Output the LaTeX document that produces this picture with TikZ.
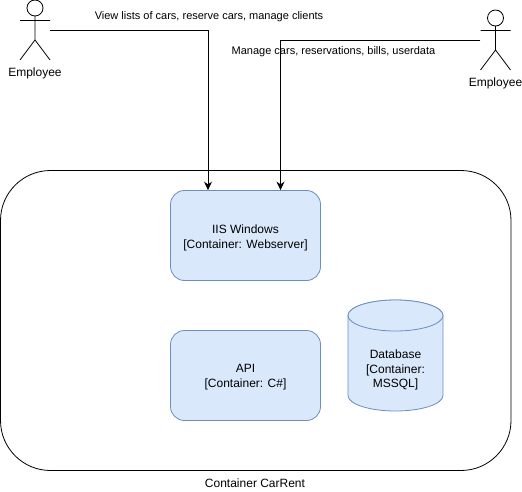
\documentclass[tikz,border=0pt]{standalone}
\usepackage{fontspec}
\setmainfont{Liberation Sans}
\definecolor{boxfill}{HTML}{DAE8FC}
\definecolor{boxline}{HTML}{6C8EBF}
\tikzset{
  box/.style={draw=boxline,fill=boxfill,rounded corners=14pt,minimum width=150pt,minimum height=90pt,inner sep=0pt,align=center,line width=0.8pt,font=\fontsize{12}{15}\selectfont},
  txt/.style={inner sep=0pt,align=center,font=\fontsize{12}{14}\selectfont},
  small/.style={inner sep=0pt,font=\fontsize{11}{13}\selectfont},
  actorbox/.style={minimum width=30pt,minimum height=60pt,inner sep=0pt},
  stick/.style={line width=0.8pt,black},
  conn/.style={line width=0.9pt,black,-{Stealth[length=8.5pt,width=8pt]}},
}
\usetikzlibrary{arrows.meta}
\begin{document}
\begin{tikzpicture}[x=1pt,y=-1pt]
\useasboundingbox (0,0) rectangle (522,492);
\draw[line width=0.8pt,rounded corners=50pt] (0.5,170.5) rectangle (511,470.5);
\node[txt] (carrent) at (255,483) {Container CarRent};
\node[box,text depth=0pt] (iis) at (245.5,235.5) {\raisebox{6pt}{\parbox{150pt}{\centering IIS Windows\\{}[Container: Webserver]}}};
\node[box,text depth=0pt] (api) at (245.5,375.5) {\raisebox{6pt}{\parbox{150pt}{\centering API\\{}[Container: C\#]}}};
% database cylinder
\draw[draw=boxline,fill=boxfill,line width=0.8pt] (348,315.5) arc[x radius=47.5,y radius=15.5,start angle=180,end angle=360] -- (443,395.5) arc[x radius=47.5,y radius=15.5,start angle=0,end angle=180] -- cycle;
\draw[draw=boxline,fill=boxfill,line width=0.8pt] (395.5,315.5) ellipse[x radius=47.5,y radius=15.5];
\node[txt,font=\fontsize{12}{14.5}\selectfont] (db) at (395.5,370) {Database\\{}[Container:\\MSSQL]};
% left actor
\node[actorbox] (empA) at (35,30) {};
\draw[stick] (35,8) circle[radius=8];
\draw[stick] (35,16) -- (35,40) (20,20.5) -- (50,20.5) (20,60) -- (35,40) -- (50,60);
\node[txt] (empAlabel) at (35,73.5) {Employee};
% right actor
\node[actorbox] (empB) at (495.5,40) {};
\draw[stick] (495.5,18) circle[radius=8];
\draw[stick] (495.5,26) -- (495.5,50) (480.5,30.5) -- (510.5,30.5) (480.5,70) -- (495.5,50) -- (510.5,70);
\node[txt] (empBlabel) at (495.5,83.5) {Employee};
% labels
\node[small] (view) at (209,17) {View lists of cars, reserve cars, manage clients};
\node[small] (manage) at (333.5,52) {Manage cars, reservations, bills, userdata};
% connectors
\draw[conn] (empA.east |- 0,30.5) -| ([xshift=-37.5pt]iis.north);
\draw[conn] (empB.west |- 0,40.5) -| ([xshift=35pt]iis.north);
\end{tikzpicture}
\end{document}
